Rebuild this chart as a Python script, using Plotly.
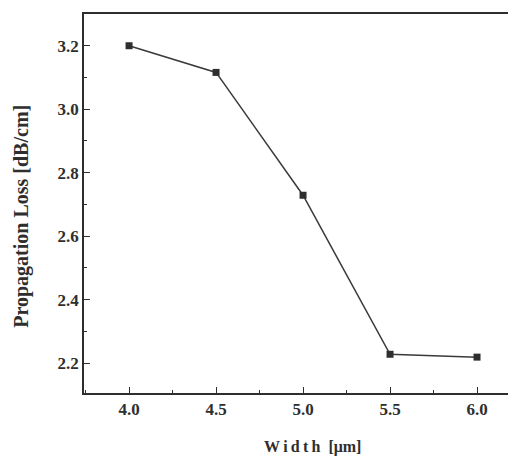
import plotly.graph_objects as go

width_um = [4.0, 4.5, 5.0, 5.5, 6.0]
loss_db_cm = [3.20, 3.116, 2.729, 2.228, 2.219]

x_ticks = [4.0, 4.5, 5.0, 5.5, 6.0]
y_ticks = [2.2, 2.4, 2.6, 2.8, 3.0, 3.2]

ink = "#2e2e2e"
serif = "Liberation Serif, Times New Roman, serif"
font = dict(family=serif, size=17, color=ink)

fig = go.Figure()
fig.add_trace(go.Scatter(
    x=width_um, y=loss_db_cm, mode="lines+markers",
    line=dict(color="#3a3a3a", width=1.5),
    marker=dict(symbol="square", size=7, color=ink),
    showlegend=False,
))

fig.update_layout(
    width=516, height=456,
    margin=dict(l=76, r=8, t=4, b=71),
    paper_bgcolor="white", plot_bgcolor="white",
    font=font,
)
fig.update_xaxes(
    range=[3.741, 6.224], tickvals=x_ticks, ticktext=[f"<b>{v:.1f}</b>" for v in x_ticks],
    showline=True, linecolor=ink, linewidth=1.5, mirror=True,
    ticks="inside", ticklen=6, tickwidth=1.2, tickcolor=ink,
    minor=dict(tickvals=[3.75, 4.25, 4.75, 5.25, 5.75], ticks="inside", ticklen=3, tickcolor=ink, tickwidth=1.2),
    showgrid=False, zeroline=False,
)
fig.update_yaxes(
    range=[2.106, 3.3], tickvals=y_ticks, ticktext=[f"<b>{v:.1f}</b>" for v in y_ticks],
    showline=True, linecolor=ink, linewidth=1.5, mirror=False,
    ticks="inside", ticklen=6, tickwidth=1.2, tickcolor=ink,
    minor=dict(tickvals=[2.3, 2.5, 2.7, 2.9, 3.1], ticks="inside", ticklen=3, tickcolor=ink, tickwidth=1.2),
    showgrid=False, zeroline=False,
)
fig.add_annotation(
    text="<b>Propagation Loss [dB/cm]</b>", xref="paper", yref="paper",
    x=-0.1435, y=0.465, xanchor="center", yanchor="middle",
    textangle=-90, showarrow=False,
    font=dict(family=serif, size=20, color=ink),
)
fig.add_annotation(
    text="<b>W\u2009i\u2009d\u2009t\u2009h\u2002[μm]</b>", xref="paper", yref="paper",
    x=0.53, y=-0.142, xanchor="center", yanchor="middle", showarrow=False,
    font=dict(family=serif, size=16, color=ink),
)

fig.write_html("out.html")
